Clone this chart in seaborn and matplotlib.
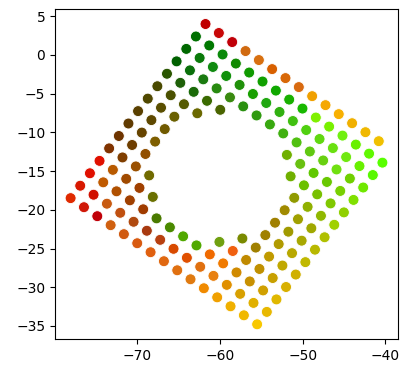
import matplotlib
matplotlib.use("Agg")
import matplotlib.pyplot as plt
import seaborn as sns
import pandas as pd

x = [
    -61.72, -60.11, -58.50, -56.89, -55.28, -53.68, -52.07, -50.46, -48.85, -47.24, -45.64, -44.03, -42.42, -40.81,
    -62.88, -61.27, -59.66, -58.06, -56.45, -54.84, -53.23, -51.62, -50.02, -48.41, -46.80, -45.19, -43.58, -41.98, -40.37,
    -64.04, -62.43, -60.83, -59.22, -57.61, -56.00, -54.39, -52.79, -51.18, -49.57, -47.96, -46.35, -44.75, -43.14, -41.53,
    -65.21, -63.60, -61.99, -60.38, -58.77, -57.17, -55.56, -53.95, -52.34, -50.73, -49.13, -47.52, -45.91, -44.30, -42.69,
    -66.37, -64.76, -63.15, -61.54, -59.94, -51.90, -50.29, -48.68, -47.07, -45.46, -43.86,
    -67.53, -65.92, -64.32, -62.71, -51.45, -49.84, -48.24, -46.63, -45.02,
    -68.69, -67.09, -65.48, -51.01, -49.40, -47.79, -46.18,
    -69.86, -68.25, -66.64, -52.17, -50.56, -48.95, -47.35,
    -71.02, -69.41, -67.80, -53.33, -51.72, -50.12, -48.51,
    -72.18, -70.58, -68.97, -54.50, -52.89, -51.28, -49.67,
    -73.35, -71.74, -70.13, -68.52, -57.27, -55.66, -54.05, -52.44, -50.83,
    -74.51, -72.90, -71.29, -69.69, -68.08, -60.04, -58.43, -56.82, -55.21, -53.61, -52.00,
    -75.67, -74.06, -72.46, -70.85, -69.24, -67.63, -66.02, -64.42, -62.81, -61.20, -59.59, -57.98, -56.38, -54.77, -53.16,
    -76.84, -75.23, -73.62, -72.01, -70.40, -68.80, -67.19, -65.58, -63.97, -62.36, -60.76, -59.15, -57.54, -55.93, -54.32,
    -78.00, -76.39, -74.78, -73.17, -71.57, -69.96, -68.35, -66.74, -65.13, -63.53, -61.92, -60.31, -58.70, -57.09, -55.49,
]

y = [
    3.97, 2.81, 1.64, 0.48, -0.68, -1.85, -3.01, -4.17, -5.34, -6.50, -7.66, -8.83, -9.99, -11.15,
    2.36, 1.20, 0.04, -1.13, -2.29, -3.45, -4.62, -5.78, -6.94, -8.10, -9.27, -10.43, -11.59, -12.76, -13.92,
    0.76, -0.41, -1.57, -2.73, -3.89, -5.06, -6.22, -7.38, -8.55, -9.71, -10.87, -12.04, -13.20, -14.36, -15.52,
    -0.85, -2.01, -3.17, -4.34, -5.50, -6.66, -7.83, -8.99, -10.15, -11.31, -12.48, -13.64, -14.80, -15.97, -17.13,
    -2.45, -3.62, -4.78, -5.94, -7.10, -12.92, -14.08, -15.25, -16.41, -17.57, -18.73,
    -4.06, -5.22, -6.38, -7.55, -15.69, -16.85, -18.01, -19.18, -20.34,
    -5.66, -6.83, -7.99, -18.46, -19.62, -20.78, -21.94,
    -7.27, -8.43, -9.59, -20.06, -21.22, -22.39, -23.55,
    -8.87, -10.04, -11.20, -21.67, -22.83, -23.99, -25.15,
    -10.48, -11.64, -12.80, -23.27, -24.43, -25.60, -26.76,
    -12.08, -13.25, -14.41, -15.57, -23.71, -24.88, -26.04, -27.20, -28.36,
    -13.69, -14.85, -16.01, -17.18, -18.34, -24.15, -25.32, -26.48, -27.64, -28.81, -29.97,
    -15.29, -16.46, -17.62, -18.78, -19.94, -21.11, -22.27, -23.43, -24.60, -25.76, -26.92, -28.09, -29.25, -30.41, -31.57,
    -16.90, -18.06, -19.22, -20.39, -21.55, -22.71, -23.88, -25.04, -26.20, -27.36, -28.53, -29.69, -30.85, -32.02, -33.18,
    -18.50, -19.67, -20.83, -21.99, -23.15, -24.32, -25.48, -26.64, -27.81, -28.97, -30.13, -31.30, -32.46, -33.62, -34.78,
]

point_colors = [
    "#c00000", "#c80808", "#c00008", "#d06a10", "#d87010", "#d86000", "#d86808", "#d86a10", "#f0a000", "#f5a800", "#f8b000", "#f0b000", "#f0b800", "#f0c000",
    "#007000", "#007800", "#0a8a0a", "#108a00", "#109a00", "#10a000", "#10a800", "#18b000", "#18b800", "#80f000", "#78f000", "#70f010", "#68f000", "#60f800", "#58ff00",
    "#006800", "#0a7a0a", "#108a10", "#10900a", "#20900a", "#18a000", "#20a810", "#30b010", "#40c010", "#50d010", "#60d810", "#6ae010", "#70e810", "#68f000", "#58f800",
    "#006000", "#0a700a", "#1a7a10", "#288a10", "#3a8a10", "#2a9010", "#309a10", "#38a810", "#40b010", "#50c010", "#60c810", "#68d010", "#70e010", "#70d000", "#70e800",
    "#2a5600", "#1e6008", "#1a6a08", "#3a6a00", "#4a6400", "#70b000", "#68c010", "#60c800", "#68c800", "#78d000", "#80e000",
    "#4a4a00", "#4a5000", "#555a00", "#6a6800", "#70b000", "#6ac000", "#78c000", "#80c800", "#90d000",
    "#504800", "#5a4e00", "#6a6000", "#909a00", "#90b000", "#90b800", "#a0d000",
    "#5a4000", "#5e4800", "#705a00", "#a08a00", "#a0a000", "#a0a800", "#b0c000",
    "#603a00", "#664400", "#7e5e00", "#a08000", "#a09a00", "#a8a800", "#b8b800",
    "#6e3400", "#6e3e00", "#925000", "#a08000", "#b09a00", "#b8a800", "#c0b800",
    "#803300", "#803e00", "#9a5000", "#706a00", "#7a8a00", "#a08000", "#c09a00", "#c0a800", "#d0b000",
    "#e01000", "#b85a00", "#a04a00", "#a04000", "#6a7000", "#70a010", "#f06010", "#c08a00", "#c09000", "#c8a000", "#d8b000",
    "#e01000", "#c05a00", "#b05000", "#a04000", "#a03c00", "#4a7a00", "#4a8a00", "#50a800", "#50a800", "#f06a00", "#f07a00", "#d08a00", "#c89000", "#d0a000", "#e0b800",
    "#d81800", "#d01000", "#c85a10", "#c05010", "#b04a10", "#a83a10", "#b84010", "#d84a00", "#e05000", "#e07010", "#e88010", "#e09000", "#d8a000", "#e0b000", "#e8b800",
    "#e02a00", "#d01808", "#c00008", "#d06010", "#d05a10", "#d85a10", "#e06010", "#e06810", "#e07010", "#e07a10", "#f08a00", "#f0a000", "#f0b000", "#f0b800", "#f8c800",
]

x_ticks = [-70, -60, -50, -40]
y_ticks = [-35, -30, -25, -20, -15, -10, -5, 0, 5]

df = pd.DataFrame({"x": x, "y": y, "pid": [f"p{i}" for i in range(len(x))]})
palette = dict(zip(df["pid"], point_colors))

fig = plt.figure(figsize=(4.14, 3.75), dpi=100)
ax = fig.add_axes([0.1329, 0.0952, 0.8285, 0.8808])
sns.scatterplot(data=df, x="x", y="y", hue="pid", palette=palette,
                legend=False, s=62, ax=ax)
ax.set_xlabel("")
ax.set_ylabel("")
ax.set_xticks(x_ticks)
ax.set_yticks(y_ticks)
fig.savefig("out.png", dpi=100)
